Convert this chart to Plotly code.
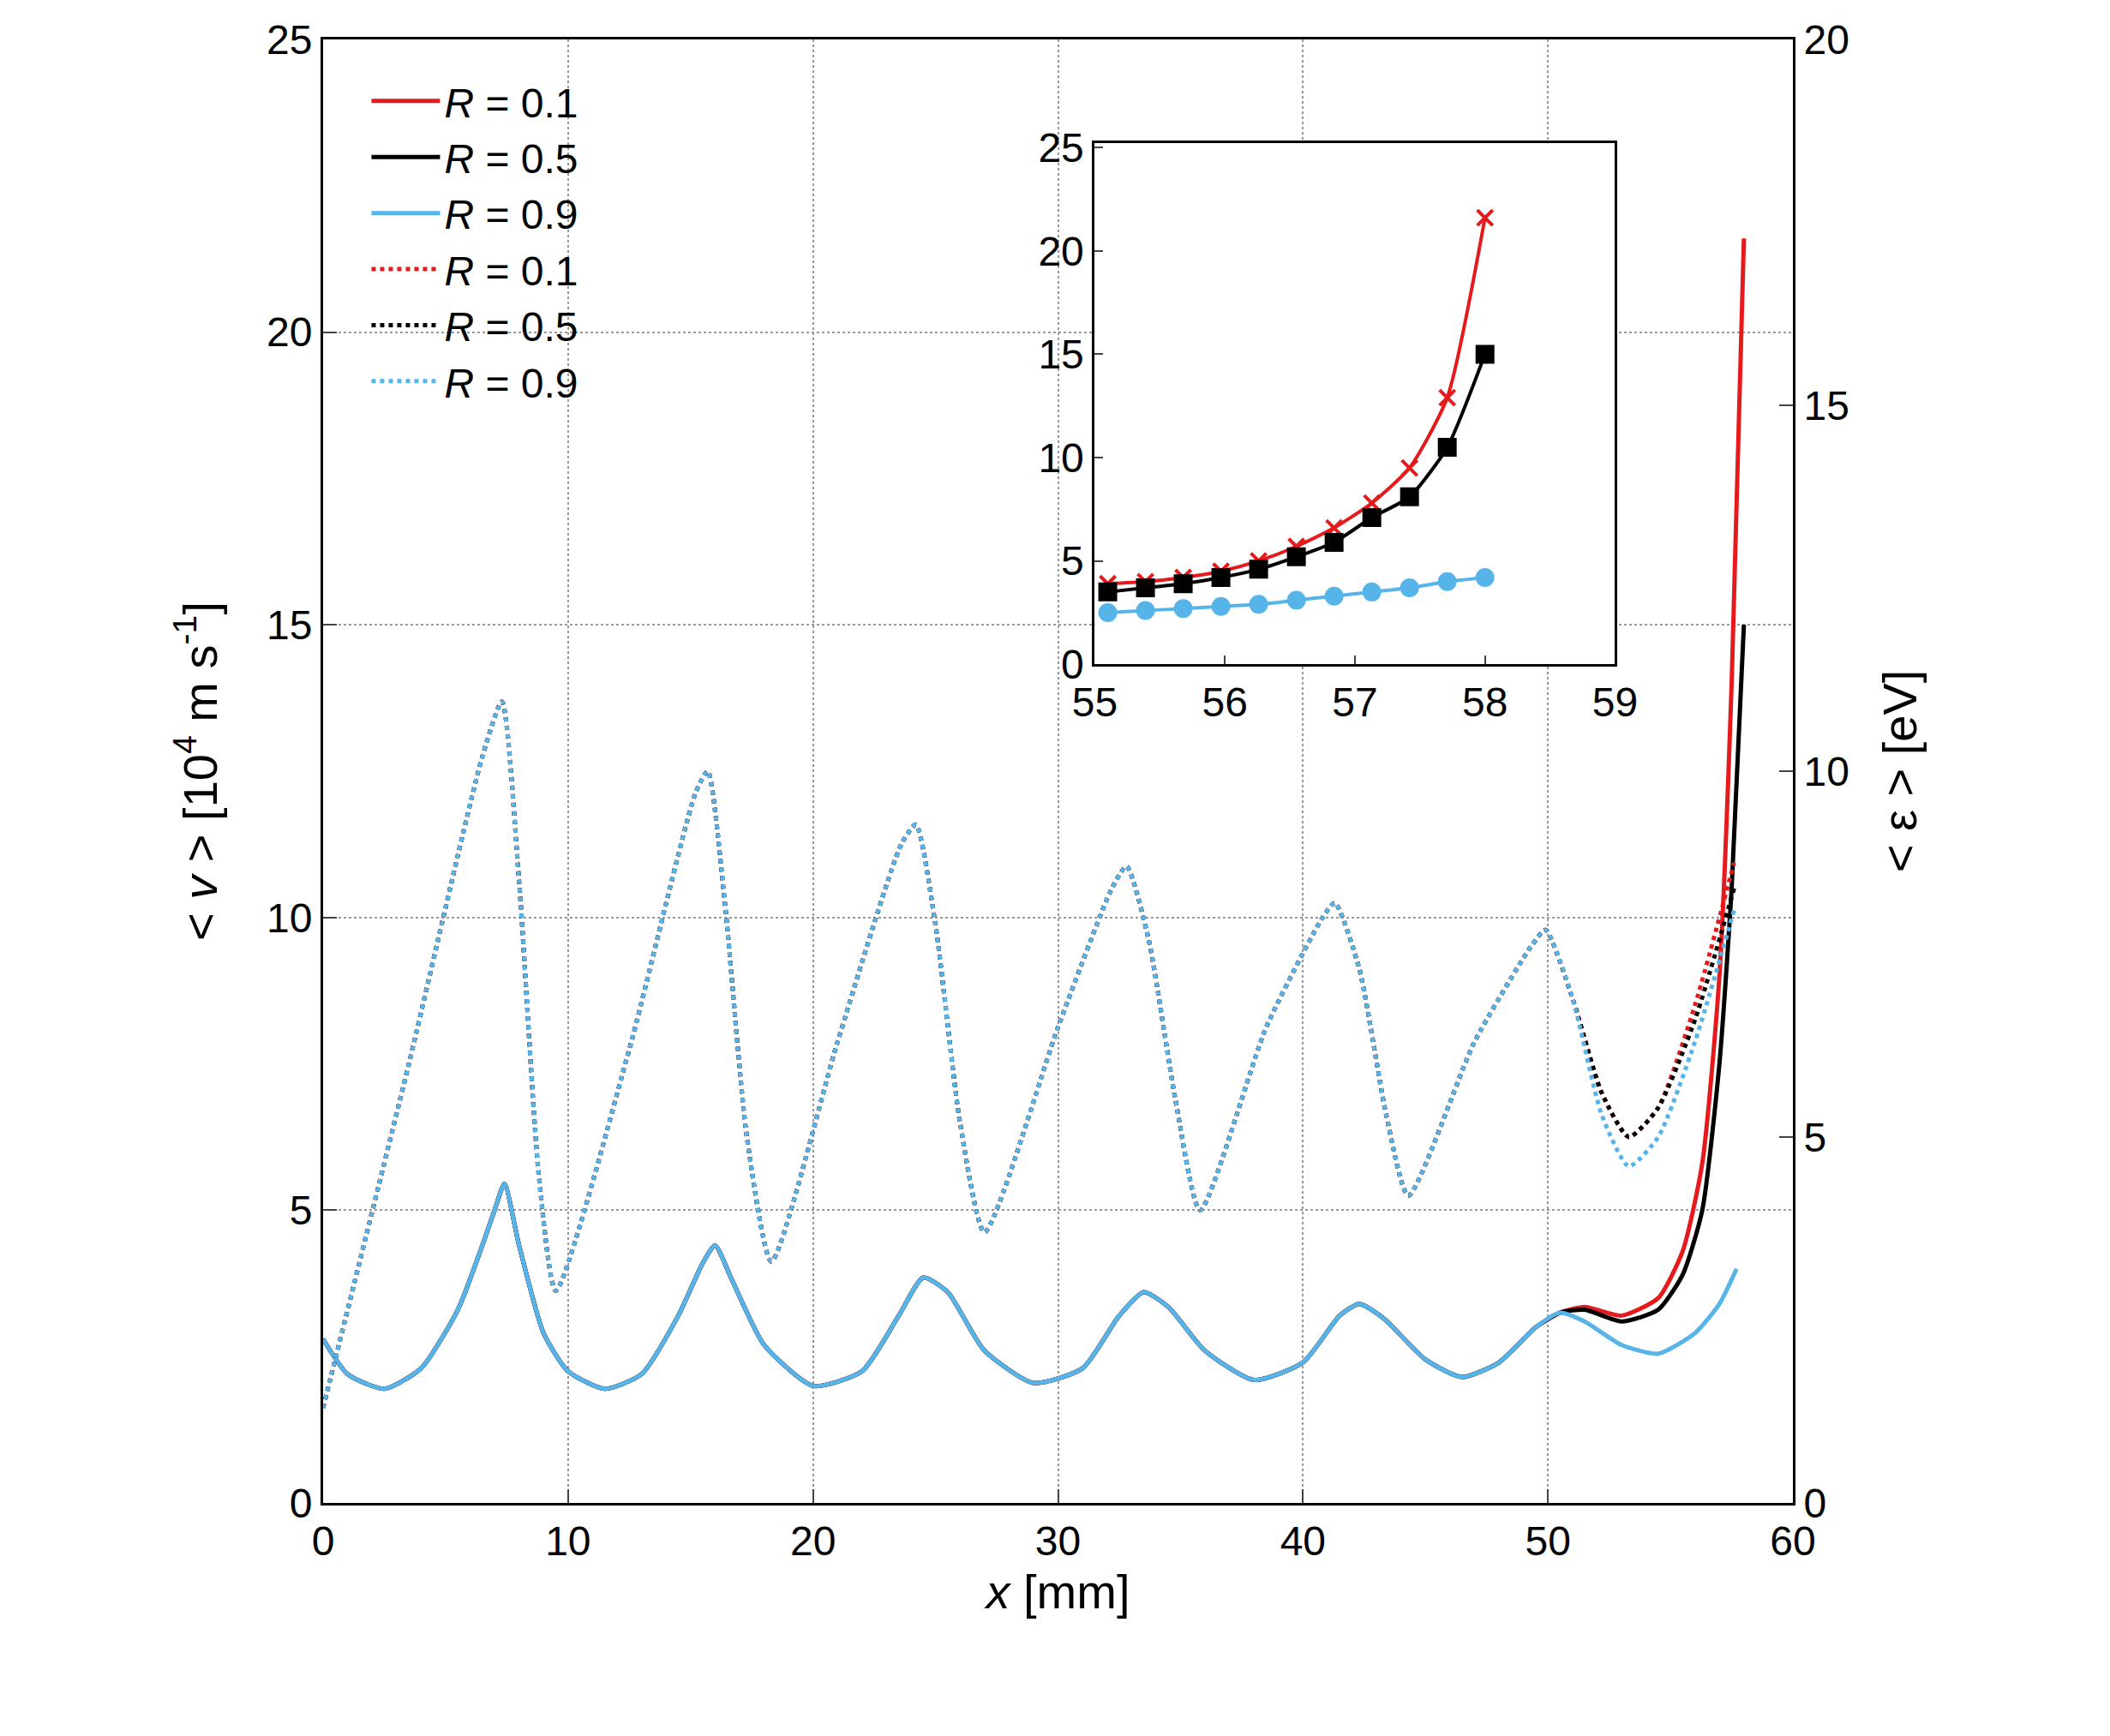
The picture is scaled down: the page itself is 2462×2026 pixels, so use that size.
import plotly.graph_objects as go

# main solid curves: <v> [10^4 m/s]
xs_common = [0, 1, 2.5, 4, 5.5, 6.5, 7.0, 7.4, 8.0, 9, 10, 11.5, 13, 14.5, 15.5, 16.0, 16.7, 18, 20, 22, 23.5, 24.5, 25.5, 27, 29, 31, 32.5, 33.5, 34.5, 36, 38, 40, 41.5, 42.3, 43.3, 45, 46.5, 48, 49.5, 50.5]
v_common = [2.8, 2.2, 1.95, 2.3, 3.3, 4.4, 5.0, 5.45, 4.4, 2.9, 2.25, 1.95, 2.2, 3.2, 4.1, 4.4, 3.8, 2.7, 2.0, 2.25, 3.2, 3.85, 3.6, 2.6, 2.05, 2.3, 3.2, 3.6, 3.35, 2.6, 2.1, 2.4, 3.2, 3.4, 3.15, 2.45, 2.15, 2.4, 3.0, 3.25]
x_red_tail = [51.5, 53, 54.5, 55.5, 56.3, 57.0, 57.5, 58.0]
v_red_tail = [3.35, 3.2, 3.5, 4.3, 5.8, 9.0, 14.0, 21.6]
x_blk_tail = [51.5, 53, 54.5, 55.5, 56.3, 57.0, 57.5, 58.0]
v_blk_tail = [3.3, 3.1, 3.3, 3.9, 5.0, 7.5, 10.5, 15.0]
x_blu_tail = [51.5, 53, 54.5, 56, 57.0, 57.7]
v_blu_tail = [3.1, 2.7, 2.55, 2.9, 3.4, 4.0]

# main dotted curves: <eps> [eV]
xe_common = [0, 3.5, 6.5, 7.3, 8.0, 8.8, 9.5, 12.5, 15.2, 15.7, 16.4, 17.3, 18.3, 21, 23.6, 24.2, 25.0, 26, 27, 30, 32.2, 32.8, 33.7, 34.8, 35.8, 38.5, 40.8, 41.3, 42.3, 43.4, 44.3, 47, 49.3, 49.9, 51.0]
e_common = [1.3, 6.0, 10.2, 10.95, 8.5, 4.5, 2.9, 6.2, 9.7, 10.0, 8.2, 5.0, 3.3, 6.3, 9.0, 9.27, 7.9, 5.2, 3.7, 6.5, 8.4, 8.7, 7.7, 5.5, 4.0, 6.5, 8.0, 8.2, 7.3, 5.3, 4.2, 6.3, 7.6, 7.83, 6.9]
xe_tail = [52.2, 53.3, 54.5, 56, 57.6]
e_red_tail = [5.6, 5.0, 5.4, 6.8, 8.75]
e_blk_tail = [5.6, 5.0, 5.4, 6.6, 8.4]
e_blu_tail = [5.3, 4.6, 5.0, 6.3, 8.1]

# inset data
xi = [55.1, 55.39, 55.68, 55.97, 56.26, 56.55, 56.84, 57.13, 57.42, 57.71, 58.0]
yi_red = [3.9, 4.0, 4.2, 4.5, 5.0, 5.7, 6.6, 7.8, 9.5, 12.9, 21.6]
yi_blk = [3.5, 3.7, 3.9, 4.2, 4.6, 5.2, 5.9, 7.1, 8.1, 10.5, 15.0]
yi_blu = [2.5, 2.6, 2.7, 2.8, 2.9, 3.1, 3.3, 3.5, 3.7, 4.0, 4.2]

RED, BLK, BLU = "#e41a1c", "#000000", "#56b4e9"
labels = ["<i>R</i> = 0.1", "<i>R</i> = 0.5", "<i>R</i> = 0.9"]
FONT = "Liberation Sans"

fig = go.Figure()
for lab, col, xt, vt in [(labels[0], RED, x_red_tail, v_red_tail), (labels[1], BLK, x_blk_tail, v_blk_tail), (labels[2], BLU, x_blu_tail, v_blu_tail)]:
    fig.add_trace(go.Scatter(x=xs_common + xt, y=v_common + vt, mode="lines", name=lab,
                             line=dict(color=col, width=5, shape="spline", smoothing=0.6)))
for lab, col, et in [(labels[0], RED, e_red_tail), (labels[1], BLK, e_blk_tail), (labels[2], BLU, e_blu_tail)]:
    fig.add_trace(go.Scatter(x=xe_common + xe_tail, y=e_common + et, mode="lines", name=lab, yaxis="y2",
                             line=dict(color=col, width=5, dash="dot", shape="spline", smoothing=0.6)))
for col, yy, sym in [(RED, yi_red, "x-thin"), (BLK, yi_blk, "square"), (BLU, yi_blu, "circle")]:
    fig.add_trace(go.Scatter(x=xi, y=yy, mode="lines+markers", xaxis="x3", yaxis="y3", showlegend=False,
                             line=dict(color=col, width=4, shape="spline", smoothing=0.6),
                             marker=dict(symbol=sym, size=18, color=col, line=dict(color=col, width=4))))

tickf = dict(family=FONT, size=48, color="black")
ax = dict(showline=True, linecolor="black", linewidth=3, ticks="inside", tickwidth=2,
          tickfont=tickf, zeroline=False)
fig.update_layout(
    width=2462, height=2026, paper_bgcolor="white", plot_bgcolor="white",
    margin=dict(l=369, r=378, t=35, b=280),
    font=dict(family=FONT, color="black"),
    xaxis=dict(**ax, ticklen=16, range=[0, 60], dtick=10, mirror=True, showgrid=True, gridcolor="#999", griddash="dot", gridwidth=2,
               title=dict(text="<i>x</i> [mm]", font=dict(family=FONT, size=56))),
    yaxis=dict(**ax, ticklen=16, range=[0, 25], dtick=5, showgrid=True, gridcolor="#999", griddash="dot", gridwidth=2,
               title=dict(text="< <i>v</i> > [10<sup>4</sup> m s<sup>-1</sup>]", font=dict(family=FONT, size=56), standoff=40)),
    yaxis2=dict(**ax, ticklen=16, range=[0, 20], dtick=5, overlaying="y", side="right", showgrid=False,
                title=dict(text="< ε > [eV]", font=dict(family=FONT, size=56), standoff=40)),
    xaxis3=dict(**ax, ticklen=10, domain=[0.525, 0.879], anchor="y3", range=[55, 59], dtick=1, mirror=True, showgrid=False),
    yaxis3=dict(**ax, ticklen=10, domain=[0.573, 0.929], anchor="x3", range=[0, 25.2], dtick=5, mirror=True, showgrid=False),
    legend=dict(x=0.03, y=0.98, xanchor="left", yanchor="top", bgcolor="rgba(255,255,255,0)",
                font=dict(family=FONT, size=48), tracegroupgap=0, itemwidth=80),
)
fig.write_html("out.html")
